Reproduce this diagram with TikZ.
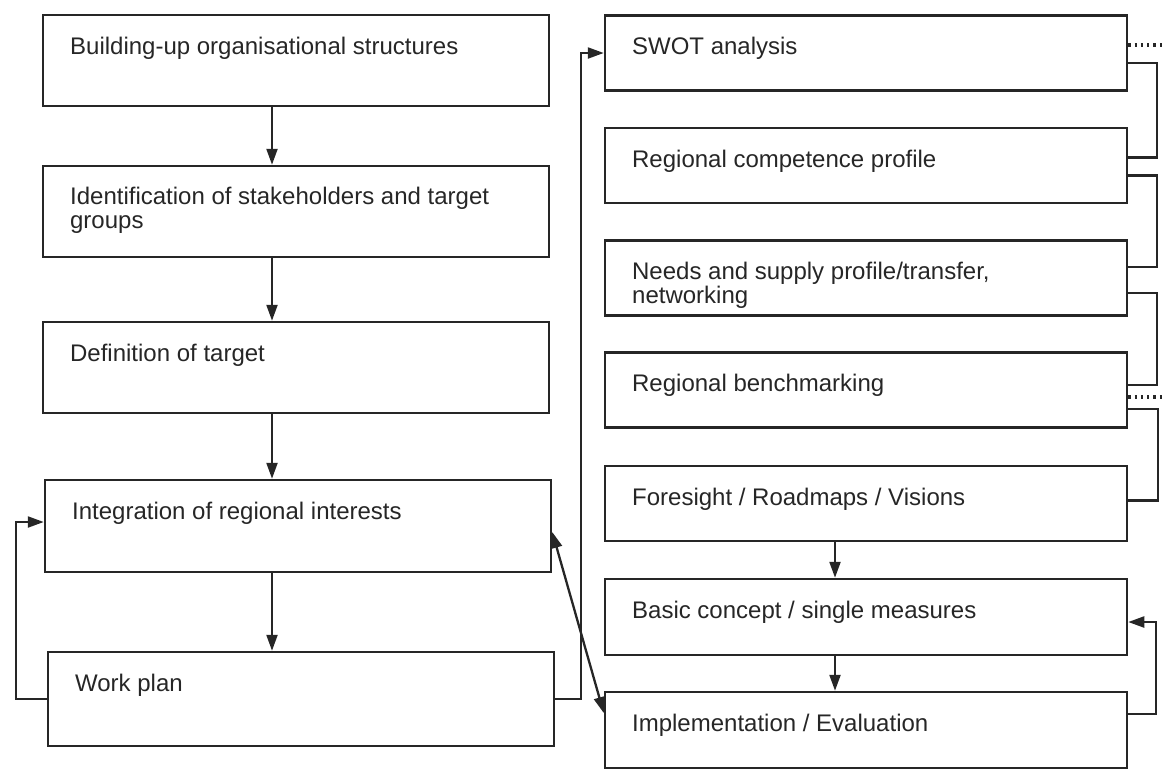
\documentclass[tikz,border=0pt]{standalone}
\usepackage{fontspec}
\setmainfont{Liberation Sans}
\usetikzlibrary{arrows.meta}

\tikzset{
  blk/.style={draw=black!85, line width=1.25pt, inner sep=0pt},
  lblk/.style={blk, minimum width=253pt, minimum height=45.5pt},
  rblk/.style={blk, minimum width=261pt, minimum height=37.5pt},
  txt/.style={anchor=north west, xshift=14pt, yshift=-11pt, align=left,
    inner sep=0pt, text=black!85, execute at begin node=\rule{0pt}{9pt}},
  con/.style={line width=1.15pt, draw=black!85},
  tip/.tip={Triangle[length=8pt,width=5.5pt]},
  arr/.style={con, -tip},
}

\begin{document}
\begin{tikzpicture}[x=0.5pt,y=-0.5pt,font=\fontsize{12}{12}\selectfont]
  \useasboundingbox (0,0) rectangle (1165,783);

  % left column
  \node[lblk, label={[txt]north west:Building-up organisational structures}] (b1) at (296,60.5) {};
  \node[lblk, label={[txt]north west:Identification of stakeholders and target\\groups}] (b2) at (296,211.5) {};
  \node[lblk, label={[txt]north west:Definition of target}] (b3) at (296,367.5) {};
  \node[lblk, minimum height=46pt, label={[txt]north west:Integration of regional interests}] (b4) at (298,526) {};
  \node[lblk, minimum height=47pt, label={[txt]north west:Work plan}] (b5) at (301,699) {};

  % right column
  \node[rblk, label={[txt]north west:SWOT analysis}] (swot) at (866,53) {};
  \node[rblk, label={[txt]north west:Regional competence profile}] (comp) at (866,165.5) {};
  \node[rblk, label={[txt]north west:Needs and supply profile/transfer,\\networking}] (needs) at (866,278) {};
  \node[rblk, label={[txt]north west:Regional benchmarking}] (bench) at (866,390) {};
  \node[rblk, label={[txt]north west:Foresight / Roadmaps / Visions}] (fore) at (866,503.5) {};
  \node[rblk, minimum height=38pt, label={[txt]north west:Basic concept / single measures}] (basic) at (866,617) {};
  \node[rblk, minimum height=38pt, label={[txt]north west:Implementation / Evaluation}] (impl) at (866,730) {};

  \coordinate (colL) at (272,0);
  \coordinate (colR) at (835,0);

  % flow down
  \foreach \a/\b in {b1/b2,b2/b3,b3/b4,b4/b5}
    \draw[arr] (\a.south -| colL) -- (\b.north -| colL);
  \foreach \a/\b in {fore/basic,basic/impl}
    \draw[arr] (\a.south -| colR) -- (\b.north -| colR);

  % loops
  \draw[arr] (b5.west) -- ++(-15.5pt,0) |- ([yshift=2pt]b4.west);
  \draw[arr] (b5.east) -- ++(13pt,0) |- (swot.west);
  \draw[con, tip-tip] ([yshift=-3pt]b4.east) -- ([yshift=8.5pt]impl.west);
  \draw[arr] ([yshift=8pt]impl.east) -- ++(14pt,0) |- ([yshift=-2.5pt]basic.east);

  % brackets on the right
  \draw[con] ([yshift=-5pt]swot.east) -- ++(14.5pt,0) |- ([yshift=4pt]comp.east);
  \draw[con] ([yshift=-5pt]comp.east) -- ++(14.5pt,0) |- ([yshift=5.5pt]needs.east);
  \draw[con] ([yshift=-7.5pt]needs.east) -- ++(14.5pt,0) |- ([yshift=2.5pt]bench.east);
  \draw[con] ([yshift=-9.5pt]bench.east) -- ++(15pt,0) |- ([yshift=1.5pt]fore.east);
  \draw[con, dotted, line width=1.6pt] ([yshift=4pt]swot.east) -- ++(19pt,0);
  \draw[con, dotted, line width=1.6pt] ([yshift=-3.5pt]bench.east) -- ++(19pt,0);
\end{tikzpicture}
\end{document}
